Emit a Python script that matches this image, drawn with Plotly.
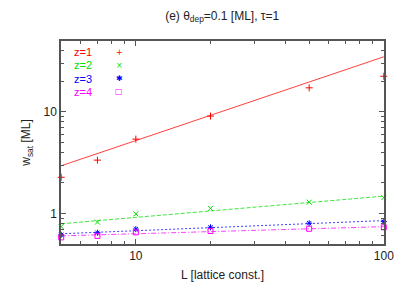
import numpy as np
import plotly.graph_objects as go

L = [5, 7, 10, 20, 50, 100]
w_z1 = [2.27, 3.35, 5.4, 9.1, 17.3, 22.5]
w_z2 = [0.74, 0.82, 0.99, 1.12, 1.29, 1.43]
w_z3 = [0.615, 0.645, 0.70, 0.73, 0.80, 0.83]
w_z4 = [0.58, 0.60, 0.65, 0.67, 0.705, 0.73]
labels = ["z=1", "z=2", "z=3", "z=4"]
fit_prefactor = [0.78, 0.564, 0.536, 0.536]
fit_exponent = [0.826, 0.2095, 0.100, 0.070]

colors = ["#ff0000", "#00e000", "#0000ff", "#ff00ff"]
symbols = ["cross-thin-open", "x-thin-open", "asterisk-open", "square-open"]
glyphs = ["+", "×", "✱", "□"]
dashes = ["solid", "4px,2px", "2px,2px", "5px,2px,1px,2px"]
series = [w_z1, w_z2, w_z3, w_z4]

fig = go.Figure()
Lfit = np.logspace(np.log10(5), np.log10(100), 60)
for i in range(4):
    fig.add_trace(go.Scatter(x=Lfit, y=fit_prefactor[i] * Lfit ** fit_exponent[i],
                             mode="lines", line=dict(color=colors[i], width=1, dash=dashes[i]),
                             opacity=0.75, showlegend=False, hoverinfo="skip"))
for i in range(4):
    fig.add_trace(go.Scatter(x=L, y=series[i], mode="markers",
                             marker=dict(symbol=symbols[i], size=5, color=colors[i],
                                         line=dict(color=colors[i], width=1)),
                             showlegend=False, cliponaxis=False))

leg_y = [0.945, 0.88, 0.815, 0.75]
for i in range(4):
    fig.add_annotation(x=0.033, y=leg_y[i], xref="paper", yref="paper", text=labels[i],
                       showarrow=False, xanchor="left", yanchor="middle",
                       font=dict(color=colors[i], size=11, family="Liberation Sans, Arial"))
    fig.add_annotation(x=0.181, y=leg_y[i], xref="paper", yref="paper", text=glyphs[i],
                       showarrow=False, xanchor="center", yanchor="middle",
                       font=dict(color=colors[i], size=8, family="DejaVu Sans"))

axcol = "#555555"
xmin = [6, 7, 8, 9, 20, 30, 40, 50, 60, 70, 80, 90]
ymin = [0.5, 0.6, 0.7, 0.8, 0.9, 2, 3, 4, 5, 6, 7, 8, 9, 20, 30, 40, 50]
fig.update_layout(
    width=407, height=285,
    margin=dict(l=61, r=23, t=41, b=41, autoexpand=False),
    paper_bgcolor="white", plot_bgcolor="white",
    font=dict(family="Liberation Sans, Arial", size=12, color="#222222"),
    title=dict(text="(e) θ<sub>dep</sub>=0.1 [ML], τ=1", x=0.546, xanchor="center",
               y=0.945, yanchor="middle", font=dict(size=12, color="#222222"), automargin=False),
    xaxis=dict(type="log", range=[np.log10(5) - 0.0008, 2.0008], showline=True, linecolor=axcol,
               linewidth=1.5, mirror="allticks", ticks="inside", ticklen=5, tickcolor=axcol,
               tickvals=[10, 100], ticktext=["10", "100"], showgrid=False, zeroline=False,
               automargin=False,
               minor=dict(tickvals=xmin, ticks="inside", ticklen=3, tickcolor=axcol, showgrid=False),
               title=dict(text="L [lattice const.]", standoff=8, font=dict(size=12))),
    yaxis=dict(type="log", range=[np.log10(0.5) - 0.0008, np.log10(50) + 0.0008], showline=True,
               linecolor=axcol, linewidth=1.5, mirror="allticks", ticks="inside", ticklen=5,
               tickcolor=axcol, tickvals=[1, 10], ticktext=["1", "10"], showgrid=False,
               zeroline=False, automargin=False,
               minor=dict(tickvals=ymin, ticks="inside", ticklen=3, tickcolor=axcol, showgrid=False),
               title=dict(text="w<sub>sat</sub> [ML]", standoff=10, font=dict(size=12))),
)
fig.write_html("out.html", config={"displayModeBar": False},
               post_script="document.body.style.margin='0px';")
